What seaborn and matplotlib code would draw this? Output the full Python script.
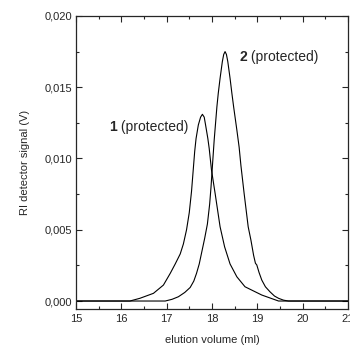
import pandas as pd
import seaborn as sns
import matplotlib.pyplot as plt
from matplotlib.ticker import FuncFormatter, MultipleLocator

# curve 1 (protected)
vol1 = [15.0, 16.19, 16.41, 16.71, 16.93, 17.08, 17.19, 17.30, 17.37, 17.44, 17.50, 17.55,
        17.59, 17.62, 17.65, 17.70, 17.75, 17.79, 17.83, 17.86, 17.91, 17.94, 17.99, 18.07,
        18.18, 18.28, 18.40, 18.55, 18.73, 19.10, 19.47, 21.0]
sig1 = [0.0, 0.0, 0.00019, 0.00054, 0.00112, 0.00194, 0.0026, 0.0033, 0.0040, 0.0050,
        0.0062, 0.0077, 0.0093, 0.0105, 0.0114, 0.01235, 0.0129, 0.0131, 0.0129, 0.01235,
        0.0114, 0.0107, 0.0092, 0.00756, 0.00521, 0.0038, 0.0026, 0.0017, 0.0010, 0.00042,
        0.0, 0.0]

# curve 2 (protected)
vol2 = [15.0, 16.97, 17.12, 17.26, 17.40, 17.52, 17.60, 17.66, 17.72, 17.78, 17.84, 17.90,
        17.95, 17.98, 18.02, 18.05, 18.11, 18.14, 18.18, 18.23, 18.26, 18.29, 18.32, 18.35,
        18.40, 18.44, 18.48, 18.55, 18.60, 18.64, 18.71, 18.80, 18.86, 18.92, 18.96, 18.99,
        19.04, 19.10, 19.18, 19.28, 19.38, 19.47, 19.58, 19.69, 21.0]
sig2 = [0.0, 0.0, 0.00012, 0.0003, 0.0006, 0.00095, 0.0014, 0.00194, 0.0026, 0.0035,
        0.0044, 0.0054, 0.0068, 0.0080, 0.0099, 0.0113, 0.01364, 0.01458, 0.01563, 0.0168,
        0.0173, 0.0175, 0.0173, 0.0168, 0.01563, 0.01458, 0.0136, 0.0120, 0.0108, 0.0095,
        0.00756, 0.00521, 0.00428, 0.0032, 0.00265, 0.00253, 0.0020, 0.00147, 0.0010,
        0.00065, 0.00035, 0.00019, 0.00006, 0.0, 0.0]

df1 = pd.DataFrame({"vol": vol1, "sig": sig1})
df2 = pd.DataFrame({"vol": vol2, "sig": sig2})

sns.set_style("ticks")
plt.rcParams['font.family'] = ['Liberation Sans', 'DejaVu Sans']

fig = plt.figure(figsize=(3.5, 3.47), dpi=100)
ax = fig.add_axes([0.217, 0.1095, 0.777, 0.8445])

sns.lineplot(data=df1, x="vol", y="sig", color="black", linewidth=0.8, sort=False, ax=ax)
sns.lineplot(data=df2, x="vol", y="sig", color="black", linewidth=0.8, sort=False, ax=ax)

ax.set_xlim(15, 21)
ax.set_ylim(-0.00056, 0.020)
ax.xaxis.set_major_locator(MultipleLocator(1))
ax.xaxis.set_minor_locator(MultipleLocator(0.5))
ax.yaxis.set_major_locator(MultipleLocator(0.005))
ax.yaxis.set_minor_locator(MultipleLocator(0.0025))
ax.yaxis.set_major_formatter(FuncFormatter(lambda v, p: f"{v:.3f}".replace(".", ",")))
ax.xaxis.set_major_formatter(FuncFormatter(lambda v, p: f"{v:.0f}"))

ax.tick_params(which="both", direction="in", top=True, right=True, labelsize=8, width=0.8)
ax.tick_params(which="major", length=4)
ax.tick_params(which="minor", length=2)
ax.tick_params(axis="y", pad=3)
for s in ax.spines.values():
    s.set_linewidth(0.9)

ax.set_xlabel("elution volume (ml)", fontsize=8, labelpad=8)
ax.set_ylabel("RI detector signal (V)", fontsize=8, labelpad=10)

t1 = ax.text(15.73, 0.01223, "1", fontsize=10, fontweight="bold", va="center")
ax.annotate(" (protected)", xy=(1, 0.5), xycoords=t1, fontsize=10, va="center", ha="left")
t2 = ax.text(18.60, 0.0171, "2", fontsize=10, fontweight="bold", va="center")
ax.annotate(" (protected)", xy=(1, 0.5), xycoords=t2, fontsize=10, va="center", ha="left")

fig.savefig("out.png", dpi=100)
